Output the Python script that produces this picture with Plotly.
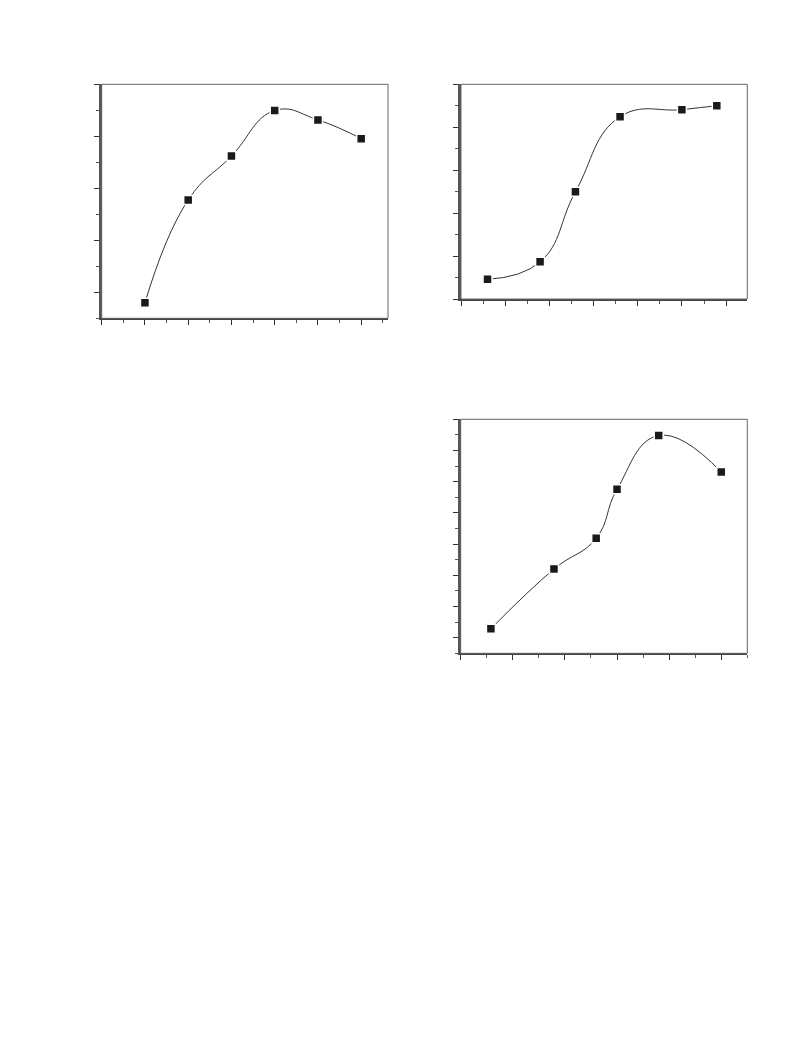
import plotly.graph_objects as go

# Panel 1 (top-left)
p1_x = [1, 2, 3, 4, 5, 6]
p1_y = [0.60, 4.55, 6.24, 7.99, 7.63, 6.91]

# Panel 2 (top-right)
p2_x = [0.60, 1.79, 2.59, 3.60, 5.00, 5.79]
p2_y = [0.92, 1.73, 4.99, 8.49, 8.82, 9.00]

# Panel 3 (bottom-right)
p3_x = [0.58, 1.79, 2.60, 3.00, 3.80, 5.00]
p3_y = [1.57, 5.40, 7.38, 10.51, 13.96, 11.62]

PAGE_W, PAGE_H = 793, 1057
OFF = 8  # default body margin of the html page
W, H = PAGE_W - 2 * OFF, PAGE_H - 2 * OFF

def px_dom(a, b):
    return [(a - OFF) / W, (b - OFF) / W]

def py_dom(top, bottom):
    return [1 - (bottom - OFF) / H, 1 - (top - OFF) / H]

panels = [
    dict(x=p1_x, y=p1_y, xd=px_dom(101.7, 388), yd=py_dom(84.3, 318.3),
         xr=[0, 6.62], yr=[0, 9], xt0=0, xdt=1, xmdt=0.5, yt0=1, ydt=2, ymdt=1),
    dict(x=p2_x, y=p2_y, xd=px_dom(461, 747.3), yd=py_dom(84.3, 299),
         xr=[0, 6.48], yr=[0, 10], xt0=0, xdt=1, xmdt=0.5, yt0=0, ydt=2, ymdt=1),
    dict(x=p3_x, y=p3_y, xd=px_dom(460.7, 747.3), yd=py_dom(419.3, 653.3),
         xr=[0, 5.5], yr=[0, 15], xt0=0, xdt=1, xmdt=0.5, yt0=1, ydt=2, ymdt=1),
]

fig = go.Figure()
layout = dict(width=W, height=H, margin=dict(l=0, r=0, t=0, b=0),
              paper_bgcolor="white", plot_bgcolor="white", showlegend=False,
              shapes=[])

for i, p in enumerate(panels, start=1):
    sfx = "" if i == 1 else str(i)
    fig.add_trace(go.Scatter(
        x=p["x"], y=p["y"], mode="lines+markers",
        line=dict(shape="spline", smoothing=1.3, color="#333333", width=1),
        marker=dict(symbol="square", size=9, color="#1a1a1a",
                    line=dict(color="white", width=1.5)),
        xaxis="x" + sfx, yaxis="y" + sfx, cliponaxis=False))
    layout["xaxis" + sfx] = dict(
        domain=p["xd"], anchor="y" + sfx, range=p["xr"], showgrid=False,
        zeroline=False, showline=True, linecolor="#444444", linewidth=2,
        ticks="outside", ticklen=5, tickwidth=1, tickcolor="#333333",
        tick0=p["xt0"], dtick=p["xdt"], showticklabels=False,
        minor=dict(ticks="outside", ticklen=3, tickwidth=1, tickcolor="#555555",
                   tick0=0, dtick=p["xmdt"], showgrid=False))
    layout["yaxis" + sfx] = dict(
        domain=p["yd"], anchor="x" + sfx, range=p["yr"], showgrid=False,
        zeroline=False, showline=True, linecolor="#555555", linewidth=2.5,
        ticks="outside", ticklen=5, tickwidth=1, tickcolor="#333333",
        tick0=p["yt0"], dtick=p["ydt"], showticklabels=False,
        minor=dict(ticks="outside", ticklen=3, tickwidth=1, tickcolor="#555555",
                   tick0=0, dtick=p["ymdt"], showgrid=False))
    layout["shapes"].append(dict(
        type="rect", xref="x" + sfx + " domain", yref="y" + sfx + " domain",
        x0=0, x1=1, y0=0, y1=1, line=dict(color="#666666", width=1),
        layer="above"))

fig.update_layout(**layout)
fig.write_html("out.html")
